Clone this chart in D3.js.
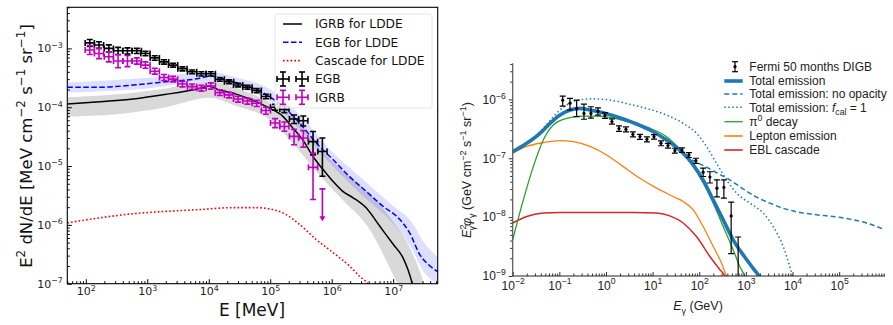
<!DOCTYPE html>
<html>
<head>
<meta charset="utf-8">
<script src="https://cdn.jsdelivr.net/npm/d3@7"></script>
<style>body{margin:0;background:#fff}</style>
</head>
<body>
<div id="chart"></div>
<script>
// ---------- LEFT PANEL DATA (E in MeV, flux in MeV cm^-2 s^-1 sr^-1) ----------
const binHalfDex = 0.075; // half width of the Fermi energy bins, in decades

const egbE  = [116,164,237,335,476,676,933,1324,1876,2630,3730,5350,7590,10800,15100,21400,30000,42600,60300,85000,120000,170000,244000,345000,497000,706000];
const egbF  = [1.24e-3,1.14e-3,1.0e-3,9.1e-4,9.1e-4,9.1e-4,8.2e-4,6.9e-4,5.9e-4,5.2e-4,4.5e-4,4.0e-4,3.7e-4,3.7e-4,2.98e-4,2.72e-4,2.39e-4,2.19e-4,1.92e-4,1.52e-4,1.0e-4,9.2e-5,6.3e-5,5.9e-5,2.6e-5,1.77e-5];
const egbHi = [1.42e-3,1.30e-3,1.15e-3,1.04e-3,1.02e-3,1.0e-3,8.9e-4,7.5e-4,6.4e-4,5.6e-4,4.85e-4,4.3e-4,4.0e-4,4.0e-4,3.2e-4,2.92e-4,2.56e-4,2.35e-4,2.07e-4,1.66e-4,1.12e-4,1.04e-4,7.4e-5,7.1e-5,3.86e-5,3.0e-5];
const egbLo = [1.08e-3,1.0e-3,8.7e-4,7.9e-4,8.0e-4,8.2e-4,7.5e-4,6.3e-4,5.4e-4,4.8e-4,4.15e-4,3.7e-4,3.4e-4,3.4e-4,2.76e-4,2.52e-4,2.22e-4,2.03e-4,1.77e-4,1.39e-4,8.9e-5,8.1e-5,5.3e-5,4.8e-5,1.55e-5,6.7e-6];

const igrbE  = [116,164,237,335,476,676,933,1324,1876,2630,3730,5350,7590,10800,15100,21400,30000,42600,60300,85000,120000,170000,244000,345000,497000];
const igrbF  = [9.4e-4,8.2e-4,7.2e-4,6.1e-4,6.1e-4,6.1e-4,5.2e-4,4.1e-4,3.2e-4,3.0e-4,2.48e-4,2.24e-4,2.1e-4,2.3e-4,1.77e-4,1.62e-4,1.38e-4,1.28e-4,1.17e-4,8.8e-5,5.4e-5,4.7e-5,3.2e-5,3.0e-5,9.5e-6];
const igrbHi = [1.12e-3,1.0e-3,8.8e-4,7.8e-4,7.6e-4,6.9e-4,5.9e-4,4.6e-4,3.6e-4,3.35e-4,2.75e-4,2.48e-4,2.35e-4,2.6e-4,1.97e-4,1.8e-4,1.54e-4,1.43e-4,1.31e-4,1.0e-4,6.4e-5,5.6e-5,4.2e-5,4.0e-5,1.66e-5];
const igrbLo = [7.9e-4,6.7e-4,5.9e-4,4.7e-4,4.9e-4,5.4e-4,4.6e-4,3.65e-4,2.85e-4,2.7e-4,2.22e-4,2.0e-4,1.88e-4,2.03e-4,1.58e-4,1.44e-4,1.22e-4,1.13e-4,1.03e-4,7.6e-5,4.5e-5,3.9e-5,2.3e-5,2.1e-5,2.7e-6];
const igrbLimit = {E: 706000, F: 4.1e-6, arrowTo: 1.2e-6};

// model curves: [log10 E, log10 flux]
const igrbLdde = [[1.699,-3.944],[2.228,-3.905],[2.77,-3.86],[3.31,-3.78],[3.85,-3.68],[4.016,-3.64],[4.125,-3.69],[4.395,-3.76],[4.667,-3.86],[4.94,-3.99],[5.21,-4.16],[5.37,-4.356],[5.53,-4.554],[5.696,-4.837],[5.86,-5.06],[6.02,-5.26],[6.18,-5.43],[6.35,-5.54],[6.56,-5.71],[6.78,-6.02],[7.0,-6.33],[7.16,-6.56],[7.24,-6.76],[7.31,-7.0],[7.35,-7.2]];
const egbLdde  = [[1.699,-3.661],[2.228,-3.661],[2.77,-3.622],[3.31,-3.566],[3.85,-3.508],[4.016,-3.47],[4.2,-3.51],[4.395,-3.566],[4.94,-3.79],[5.21,-3.99],[5.48,-4.27],[5.75,-4.61],[6.02,-4.89],[6.29,-5.18],[6.56,-5.43],[6.83,-5.68],[7.11,-5.91],[7.27,-6.14],[7.43,-6.5],[7.6,-6.70],[7.73,-6.80]];
const cascadeLdde = [[1.699,-5.966],[2.228,-5.88],[2.77,-5.81],[3.31,-5.77],[3.85,-5.74],[4.395,-5.707],[4.77,-5.707],[5.04,-5.74],[5.26,-5.825],[5.48,-5.995],[5.75,-6.25],[6.02,-6.47],[6.29,-6.7],[6.45,-6.87],[6.59,-7.0],[6.65,-7.1]];
// uncertainty bands: [log10 E, log10 low, log10 high]
const igrbBand = [[1.699,-4.16,-3.83],[2.5,-4.12,-3.78],[3.3,-4.0,-3.68],[4.016,-3.84,-3.56],[4.4,-3.96,-3.66],[5.0,-4.22,-3.92],[5.4,-4.65,-4.2],[5.8,-5.15,-4.7],[6.2,-5.6,-5.1],[6.6,-6.05,-5.45],[7.0,-6.85,-5.95],[7.3,-7.5,-6.45],[7.5,-8.0,-7.0],[7.6,-8.0,-7.4]];
const egbBand  = [[1.699,-3.75,-3.58],[3.0,-3.68,-3.5],[4.016,-3.56,-3.4],[4.4,-3.65,-3.48],[5.0,-3.9,-3.7],[5.5,-4.4,-4.15],[6.0,-4.98,-4.75],[6.5,-5.5,-5.22],[7.0,-5.98,-5.68],[7.3,-6.4,-5.95],[7.5,-6.8,-6.3],[7.73,-7.0,-6.55]];

const leftLegend = ["IGRB for LDDE", "EGB for LDDE", "Cascade for LDDE", "EGB", "IGRB"];

// ---------- RIGHT PANEL DATA (E in GeV, flux in GeV cm^-2 s^-1 sr^-1) ----------
const fermiE  = [0.118,0.169,0.235,0.337,0.476,0.673,0.95,1.34,1.9,2.68,3.78,5.35,7.55,10.7,15.1,21.3,30,42.5,60,84.7,121,169,239,337,483,682];
const fermiF  = [9.7e-7,8.6e-7,7.0e-7,5.8e-7,5.8e-7,6.3e-7,5.3e-7,4.2e-7,3.2e-7,3.1e-7,2.55e-7,2.33e-7,2.1e-7,2.33e-7,1.8e-7,1.64e-7,1.35e-7,1.38e-7,1.14e-7,9.1e-8,5.8e-8,4.8e-8,3.1e-8,3.2e-8,1.05e-8,5e-10];
const fermiHi = [1.14e-6,1.04e-6,9.7e-7,8.3e-7,7.5e-7,7.2e-7,5.9e-7,4.65e-7,3.55e-7,3.4e-7,2.8e-7,2.55e-7,2.3e-7,2.52e-7,1.97e-7,1.79e-7,1.48e-7,1.5e-7,1.25e-7,1.0e-7,6.8e-8,5.9e-8,4.3e-8,4.3e-8,1.8e-8,4.6e-9];
const fermiLo = [7.7e-7,6.6e-7,5.1e-7,4.6e-7,4.8e-7,5.4e-7,4.75e-7,3.8e-7,2.85e-7,2.8e-7,2.3e-7,2.1e-7,1.9e-7,2.12e-7,1.63e-7,1.49e-7,1.22e-7,1.26e-7,1.03e-7,8.2e-8,4.9e-8,3.8e-8,2.2e-8,2.1e-8,2.4e-9,1e-10];

const totalEmission = [[-2,-6.888],[-1.7,-6.746],[-1.415,-6.576],[-1.2,-6.407],[-0.986,-6.266],[-0.772,-6.181],[-0.558,-6.153],[-0.344,-6.18],[-0.06,-6.227],[0.228,-6.295],[0.584,-6.396],[0.942,-6.52],[1.3,-6.69],[1.655,-6.915],[1.87,-7.11],[2.084,-7.37],[2.3,-7.71],[2.513,-8.045],[2.727,-8.385],[2.94,-8.64],[3.155,-8.87],[3.28,-9.0],[3.35,-9.1]];
const noOpacity = [[1.3,-6.69],[1.655,-6.915],[1.85,-7.03],[2.0,-7.09],[2.2,-7.17],[2.4,-7.26],[2.62,-7.35],[2.94,-7.52],[3.228,-7.66],[3.513,-7.763],[3.8,-7.85],[4.156,-7.92],[4.513,-7.96],[4.87,-7.99],[5.227,-8.034],[5.585,-8.10],[5.98,-8.215]];
const fcalOne = [[-2,-6.888],[-1.7,-6.746],[-1.415,-6.55],[-1.2,-6.36],[-0.986,-6.18],[-0.772,-6.06],[-0.487,-6.0],[-0.27,-5.99],[0.085,-6.012],[0.584,-6.097],[0.942,-6.17],[1.3,-6.266],[1.655,-6.407],[1.94,-6.576],[2.156,-6.8],[2.37,-7.085],[2.585,-7.368],[2.8,-7.593],[3.085,-7.763],[3.37,-7.93],[3.584,-8.16],[3.8,-8.5],[3.94,-8.84],[4.0,-9.0],[4.03,-9.1]];
const pionDecay = [[-2,-8.385],[-1.772,-7.707],[-1.558,-7.142],[-1.344,-6.69],[-1.13,-6.436],[-0.843,-6.322],[-0.487,-6.283],[-0.27,-6.283],[0.085,-6.305],[0.584,-6.407],[0.942,-6.49],[1.3,-6.634],[1.655,-6.915],[1.87,-7.142],[2.084,-7.42],[2.3,-7.763],[2.513,-8.16],[2.727,-8.554],[2.87,-8.84],[2.977,-9.0],[3.03,-9.1]];
const leptonEmission = [[-2,-6.915],[-1.7,-6.8],[-1.344,-6.735],[-0.986,-6.70],[-0.7,-6.718],[-0.344,-6.8],[0.014,-6.944],[0.37,-7.142],[0.728,-7.34],[1.085,-7.508],[1.44,-7.65],[1.655,-7.735],[1.87,-7.876],[2.084,-8.16],[2.3,-8.5],[2.477,-8.78],[2.585,-9.0],[2.64,-9.1]];
const eblCascade = [[-2,-8.1],[-1.7,-7.99],[-1.344,-7.932],[-0.986,-7.92],[-0.13,-7.92],[0.584,-7.92],[1.085,-7.932],[1.37,-7.978],[1.655,-8.1],[1.94,-8.33],[2.228,-8.668],[2.442,-8.893],[2.55,-9.0],[2.6,-9.1]];

const rightLegend = ["Fermi 50 months DIGB", "Total emission", "Total emission: no opacity", "Total emission: f_cal = 1", "π0 decay", "Lepton emission", "EBL cascade"];

// ---------- SETUP ----------
const W = 893, H = 325;
const svg = d3.select("#chart").append("svg")
    .attr("width", W).attr("height", H);

const LEFT_FONT = "'DejaVu Sans', sans-serif";
const RIGHT_FONT = "'Liberation Sans', Arial, sans-serif";

// rich text with super/subscripts (first tspan keeps the parent's dy)
function rich(text, parts, size) {
    let shift = 0;
    parts.forEach(p => {
        const kind = p.k || "n";
        const target = kind === "sup" ? -size * 0.42 : kind === "sub" ? size * 0.28 : 0;
        const t = text.append("tspan").text(p.t);
        if (target - shift !== 0) t.attr("dy", target - shift);
        if (kind !== "n") t.attr("font-size", size * 0.72);
        if (p.i) t.attr("font-style", "italic");
        if (p.dx) t.attr("dx", p.dx);
        shift = target;
    });
}

function powLabel(v) {
    const e = Math.round(Math.log10(v));
    return [{t: "10"}, {t: (e < 0 ? "\u2212" : "") + Math.abs(e), k: "sup"}];
}

function minorsOf(domain) {
    const out = [];
    const a = Math.floor(Math.log10(domain[0])), b = Math.ceil(Math.log10(domain[1]));
    for (let p = a; p <= b; p++) {
        for (let m = 2; m <= 9; m++) {
            const v = m * Math.pow(10, p);
            if (v >= domain[0] && v <= domain[1]) out.push(v);
        }
    }
    return out;
}

function majorsOf(domain) {
    const out = [];
    const a = Math.ceil(Math.log10(domain[0]) - 1e-9), b = Math.floor(Math.log10(domain[1]) + 1e-9);
    for (let p = a; p <= b; p++) out.push(Math.pow(10, p));
    return out;
}

// draws major + minor ticks on a log axis; size>0 = outward
function logAxis(g, axisFn, scale, majorSize, minorSize, pad, fontSize, color, font) {
    const dom = scale.domain();
    g.append("g").call(axisFn(scale).tickValues(minorsOf(dom)).tickSize(minorSize).tickFormat(""))
        .call(s => s.select(".domain").remove())
        .selectAll("line").attr("stroke", color);
    const maj = g.append("g").call(axisFn(scale).tickValues(majorsOf(dom)).tickSize(majorSize)
        .tickPadding(pad).tickFormat(""));
    maj.select(".domain").remove();
    maj.selectAll("line").attr("stroke", color);
    maj.selectAll(".tick text")
        .attr("font-size", fontSize)
        .attr("font-family", font)
        .attr("fill", "#222")
        .each(function(d) { rich(d3.select(this), powLabel(d), fontSize); });
    return maj;
}

const lineLog = (xs, ys) => d3.line()
    .x(d => xs(Math.pow(10, d[0]))).y(d => ys(Math.pow(10, d[1])))
    .curve(d3.curveMonotoneX);
const areaLog = (xs, ys) => d3.area()
    .x(d => xs(Math.pow(10, d[0])))
    .y0(d => ys(Math.pow(10, d[1]))).y1(d => ys(Math.pow(10, d[2])))
    .curve(d3.curveMonotoneX);

// ======================= LEFT PANEL =======================
const L = {x0: 67.3, x1: 437.7, y0: 7.3, y1: 283.7};
const xL = d3.scaleLog().domain([50, 5.3e7]).range([L.x0, L.x1]);
const yL = d3.scaleLog().domain([1e-7, 5e-3]).range([L.y1, L.y0]);

svg.append("clipPath").attr("id", "clipL").append("rect")
    .attr("x", L.x0).attr("y", L.y0).attr("width", L.x1 - L.x0).attr("height", L.y1 - L.y0);

const gl = svg.append("g").style("font-family", LEFT_FONT);
const plotL = gl.append("g").attr("clip-path", "url(#clipL)");

plotL.append("path").datum(igrbBand).attr("d", areaLog(xL, yL))
    .attr("fill", "#808080").attr("fill-opacity", 0.3);
plotL.append("path").datum(egbBand).attr("d", areaLog(xL, yL))
    .attr("fill", "#0000ff").attr("fill-opacity", 0.13);

plotL.append("path").datum(igrbLdde).attr("d", lineLog(xL, yL))
    .attr("fill", "none").attr("stroke", "#000").attr("stroke-width", 1.5);
plotL.append("path").datum(egbLdde).attr("d", lineLog(xL, yL))
    .attr("fill", "none").attr("stroke", "#0000ff").attr("stroke-width", 1.5)
    .attr("stroke-dasharray", "5.5,2.5");
plotL.append("path").datum(cascadeLdde).attr("d", lineLog(xL, yL))
    .attr("fill", "none").attr("stroke", "#ff0000").attr("stroke-width", 1.6)
    .attr("stroke-dasharray", "1.6,2.2");

// error-bar crosses with caps
function crossBars(g, E, F, lo, hi, color, xs, ys, cap, width) {
    E.forEach((e, i) => {
        const cx = xs(e), cy = ys(F[i]);
        const xa = xs(e / Math.pow(10, binHalfDex)), xb = xs(e * Math.pow(10, binHalfDex));
        const ya = ys(hi[i]), yb = ys(lo[i]);
        const segs = [
            [cx, ya, cx, yb], [cx - cap, ya, cx + cap, ya], [cx - cap, yb, cx + cap, yb],
            [xa, cy, xb, cy], [xa, cy - cap, xa, cy + cap], [xb, cy - cap, xb, cy + cap]
        ];
        segs.forEach(s => g.append("line")
            .attr("x1", s[0]).attr("y1", s[1]).attr("x2", s[2]).attr("y2", s[3])
            .attr("stroke", color).attr("stroke-width", width));
    });
}

const MAG = "#bf00bf";
crossBars(plotL, egbE, egbF, egbLo, egbHi, "#000", xL, yL, 3, 1.6);
crossBars(plotL, igrbE, igrbF, igrbLo, igrbHi, MAG, xL, yL, 3, 1.6);

// IGRB upper limit
{
    const cx = xL(igrbLimit.E), ya = yL(igrbLimit.F), yb = yL(igrbLimit.arrowTo);
    plotL.append("line").attr("x1", cx).attr("x2", cx).attr("y1", ya).attr("y2", yb - 2)
        .attr("stroke", MAG).attr("stroke-width", 1.6);
    plotL.append("line").attr("x1", cx - 3).attr("x2", cx + 3).attr("y1", ya).attr("y2", ya)
        .attr("stroke", MAG).attr("stroke-width", 1.6);
    plotL.append("path").attr("d", `M${cx - 3},${yb - 4}L${cx + 3},${yb - 4}L${cx},${yb + 1}Z`)
        .attr("fill", MAG);
}

// axes
const axL = gl.append("g").attr("transform", `translate(0,${L.y1})`);
logAxis(axL, d3.axisBottom, xL, -4.5, -2.5, 4, 11, "#000", LEFT_FONT);
const ayL = gl.append("g").attr("transform", `translate(${L.x0},0)`);
logAxis(ayL, d3.axisLeft, yL, -4.5, -2.5, 4.5, 11, "#000", LEFT_FONT);

gl.append("rect").attr("x", L.x0).attr("y", L.y0)
    .attr("width", L.x1 - L.x0).attr("height", L.y1 - L.y0)
    .attr("fill", "none").attr("stroke", "#000").attr("stroke-width", 1.1);

gl.append("text").attr("x", 252).attr("y", 316)
    .attr("text-anchor", "middle").attr("font-size", 17).attr("fill", "#111")
    .text("E [MeV]");
{
    const t = gl.append("text").attr("transform", "translate(32,146) rotate(-90)")
        .attr("text-anchor", "middle").attr("font-size", 16.5).attr("fill", "#111");
    rich(t, [{t: "E"}, {t: "2", k: "sup"}, {t: " dN/dE [MeV cm"}, {t: "\u22122", k: "sup"},
        {t: " s"}, {t: "\u22121", k: "sup"}, {t: " sr"}, {t: "\u22121", k: "sup"}, {t: "]"}], 16.5);
}

// legend (left)
{
    const lg = gl.append("g");
    lg.append("rect").attr("x", 275).attr("y", 14).attr("width", 157).attr("height", 94).attr("rx", 2)
        .attr("fill", "#fff").attr("fill-opacity", 0.8).attr("stroke", "#e6e6e6");
    const ys = [24, 42.3, 60.6, 79, 97.3];
    const hx0 = 283, hx1 = 302;
    lg.append("line").attr("x1", hx0).attr("x2", hx1).attr("y1", ys[0]).attr("y2", ys[0])
        .attr("stroke", "#000").attr("stroke-width", 1.5);
    lg.append("line").attr("x1", hx0).attr("x2", hx1).attr("y1", ys[1]).attr("y2", ys[1])
        .attr("stroke", "#0000ff").attr("stroke-width", 1.5).attr("stroke-dasharray", "5.5,2.5");
    lg.append("line").attr("x1", hx0).attr("x2", hx1).attr("y1", ys[2]).attr("y2", ys[2])
        .attr("stroke", "#ff0000").attr("stroke-width", 1.6).attr("stroke-dasharray", "1.6,2.2");
    [[ys[3], "#000"], [ys[4], MAG]].forEach(([y, c]) => {
        [hx0, hx1].forEach(x => {
            const segs = [[x, y - 7, x, y + 7], [x - 3, y - 7, x + 3, y - 7], [x - 3, y + 7, x + 3, y + 7],
                [x - 6, y, x + 6, y], [x - 6, y - 3, x - 6, y + 3], [x + 6, y - 3, x + 6, y + 3]];
            segs.forEach(s => lg.append("line").attr("x1", s[0]).attr("y1", s[1]).attr("x2", s[2]).attr("y2", s[3])
                .attr("stroke", c).attr("stroke-width", 1.6));
        });
    });
    leftLegend.forEach((name, i) => lg.append("text").attr("x", 315).attr("y", ys[i])
        .attr("dy", "0.36em").attr("font-size", 12.2).attr("fill", "#111").text(name));
}

// ======================= RIGHT PANEL =======================
const R = {x0: 512.7, x1: 885, y0: 63.3, y1: 276};
const xR = d3.scaleLog().domain([1e-2, 9.6e5]).range([R.x0, R.x1]);
const yR = d3.scaleLog().domain([1e-9, 4.1e-6]).range([R.y1, R.y0]);

svg.append("clipPath").attr("id", "clipR").append("rect")
    .attr("x", R.x0).attr("y", R.y0).attr("width", R.x1 - R.x0).attr("height", R.y1 - R.y0);

const gr = svg.append("g").style("font-family", RIGHT_FONT);
const plotR = gr.append("g").attr("clip-path", "url(#clipR)");

const C0 = "#1f77b4";
const rightCurves = [
    {d: eblCascade, c: "#d62728", w: 1.5},
    {d: leptonEmission, c: "#ff7f0e", w: 1.3},
    {d: pionDecay, c: "#2ca02c", w: 1.3},
    {d: noOpacity, c: C0, w: 1.5, dash: "5,3"},
    {d: fcalOne, c: C0, w: 1.5, dash: "1.5,2.5"},
    {d: totalEmission, c: C0, w: 3.6}
];
rightCurves.forEach(s => {
    const p = plotR.append("path").datum(s.d).attr("d", lineLog(xR, yR))
        .attr("fill", "none").attr("stroke", s.c).attr("stroke-width", s.w);
    if (s.dash) p.attr("stroke-dasharray", s.dash);
});

// Fermi points
fermiE.forEach((e, i) => {
    const cx = xR(e), ya = yR(fermiHi[i]), yb = yR(fermiLo[i]);
    plotR.append("line").attr("x1", cx).attr("x2", cx).attr("y1", ya).attr("y2", yb)
        .attr("stroke", "#000").attr("stroke-width", 1.2);
    [ya, yb].forEach(y => plotR.append("line").attr("x1", cx - 3).attr("x2", cx + 3)
        .attr("y1", y).attr("y2", y).attr("stroke", "#000").attr("stroke-width", 1.2));
    plotR.append("circle").attr("cx", cx).attr("cy", yR(fermiF[i])).attr("r", 1.6).attr("fill", "#000");
});

// axes (only left + bottom spines)
const axR = gr.append("g").attr("transform", `translate(0,${R.y1})`);
logAxis(axR, d3.axisBottom, xR, -4, -2.5, 5, 12, "#333", RIGHT_FONT);
const ayR = gr.append("g").attr("transform", `translate(${R.x0},0)`);
logAxis(ayR, d3.axisLeft, yR, 4, 2.5, 3, 12, "#333", RIGHT_FONT);
gr.append("line").attr("x1", R.x0).attr("x2", R.x1).attr("y1", R.y1).attr("y2", R.y1)
    .attr("stroke", "#222").attr("stroke-width", 1.2);
gr.append("line").attr("x1", R.x0).attr("x2", R.x0).attr("y1", R.y0).attr("y2", R.y1)
    .attr("stroke", "#555").attr("stroke-width", 1.2);

{
    const t = gr.append("text").attr("x", 698).attr("y", 310).attr("text-anchor", "middle")
        .attr("font-size", 12.5).attr("fill", "#222");
    rich(t, [{t: "E", i: 1}, {t: "γ", k: "sub"}, {t: " (GeV)"}], 12.5);
    const t2 = gr.append("text").attr("transform", "translate(471,170) rotate(-90)")
        .attr("text-anchor", "middle").attr("font-size", 12.5).attr("fill", "#222");
    rich(t2, [{t: "E", i: 1}, {t: "2", k: "sup"}, {t: "γ", k: "sub", dx: -6}, {t: "φ", i: 1}, {t: "γ", k: "sub"},
        {t: " (GeV cm"}, {t: "\u22122", k: "sup"}, {t: " s"}, {t: "\u22121", k: "sup"},
        {t: " sr"}, {t: "\u22121", k: "sup"}, {t: ")"}], 12.5);
}

// legend (right)
{
    const lg = gr.append("g");
    const ys = [66.7, 81, 94, 107.3, 121.7, 136, 150];
    const hx0 = 724.3, hx1 = 742.7, tx = 749.3;
    // Fermi handle
    const fx = 735;
    lg.append("line").attr("x1", fx).attr("x2", fx).attr("y1", ys[0] - 5).attr("y2", ys[0] + 5)
        .attr("stroke", "#000").attr("stroke-width", 1.2);
    [ys[0] - 5, ys[0] + 5].forEach(y => lg.append("line").attr("x1", fx - 3).attr("x2", fx + 3)
        .attr("y1", y).attr("y2", y).attr("stroke", "#000").attr("stroke-width", 1.2));
    lg.append("circle").attr("cx", fx).attr("cy", ys[0]).attr("r", 1.6).attr("fill", "#000");
    const handles = [
        {c: C0, w: 3.6}, {c: C0, w: 1.5, dash: "5,3"}, {c: C0, w: 1.5, dash: "1.5,2.5"},
        {c: "#2ca02c", w: 1.3}, {c: "#ff7f0e", w: 1.6}, {c: "#d62728", w: 1.6}
    ];
    handles.forEach((h, i) => {
        const l = lg.append("line").attr("x1", hx0).attr("x2", hx1).attr("y1", ys[i + 1]).attr("y2", ys[i + 1])
            .attr("stroke", h.c).attr("stroke-width", h.w);
        if (h.dash) l.attr("stroke-dasharray", h.dash);
    });
    const parts = rightLegend.map(s => [{t: s}]);
    parts[3] = [{t: "Total emission: "}, {t: "f", i: 1}, {t: "cal", k: "sub"}, {t: " = 1"}];
    parts[4] = [{t: "π"}, {t: "0", k: "sup"}, {t: " decay"}];
    parts.forEach((p, i) => {
        const t = lg.append("text").attr("x", tx).attr("y", ys[i] + 4.3)
            .attr("font-size", 12).attr("fill", "#222");
        rich(t, p, 12);
    });
}
</script>
</body>
</html>
